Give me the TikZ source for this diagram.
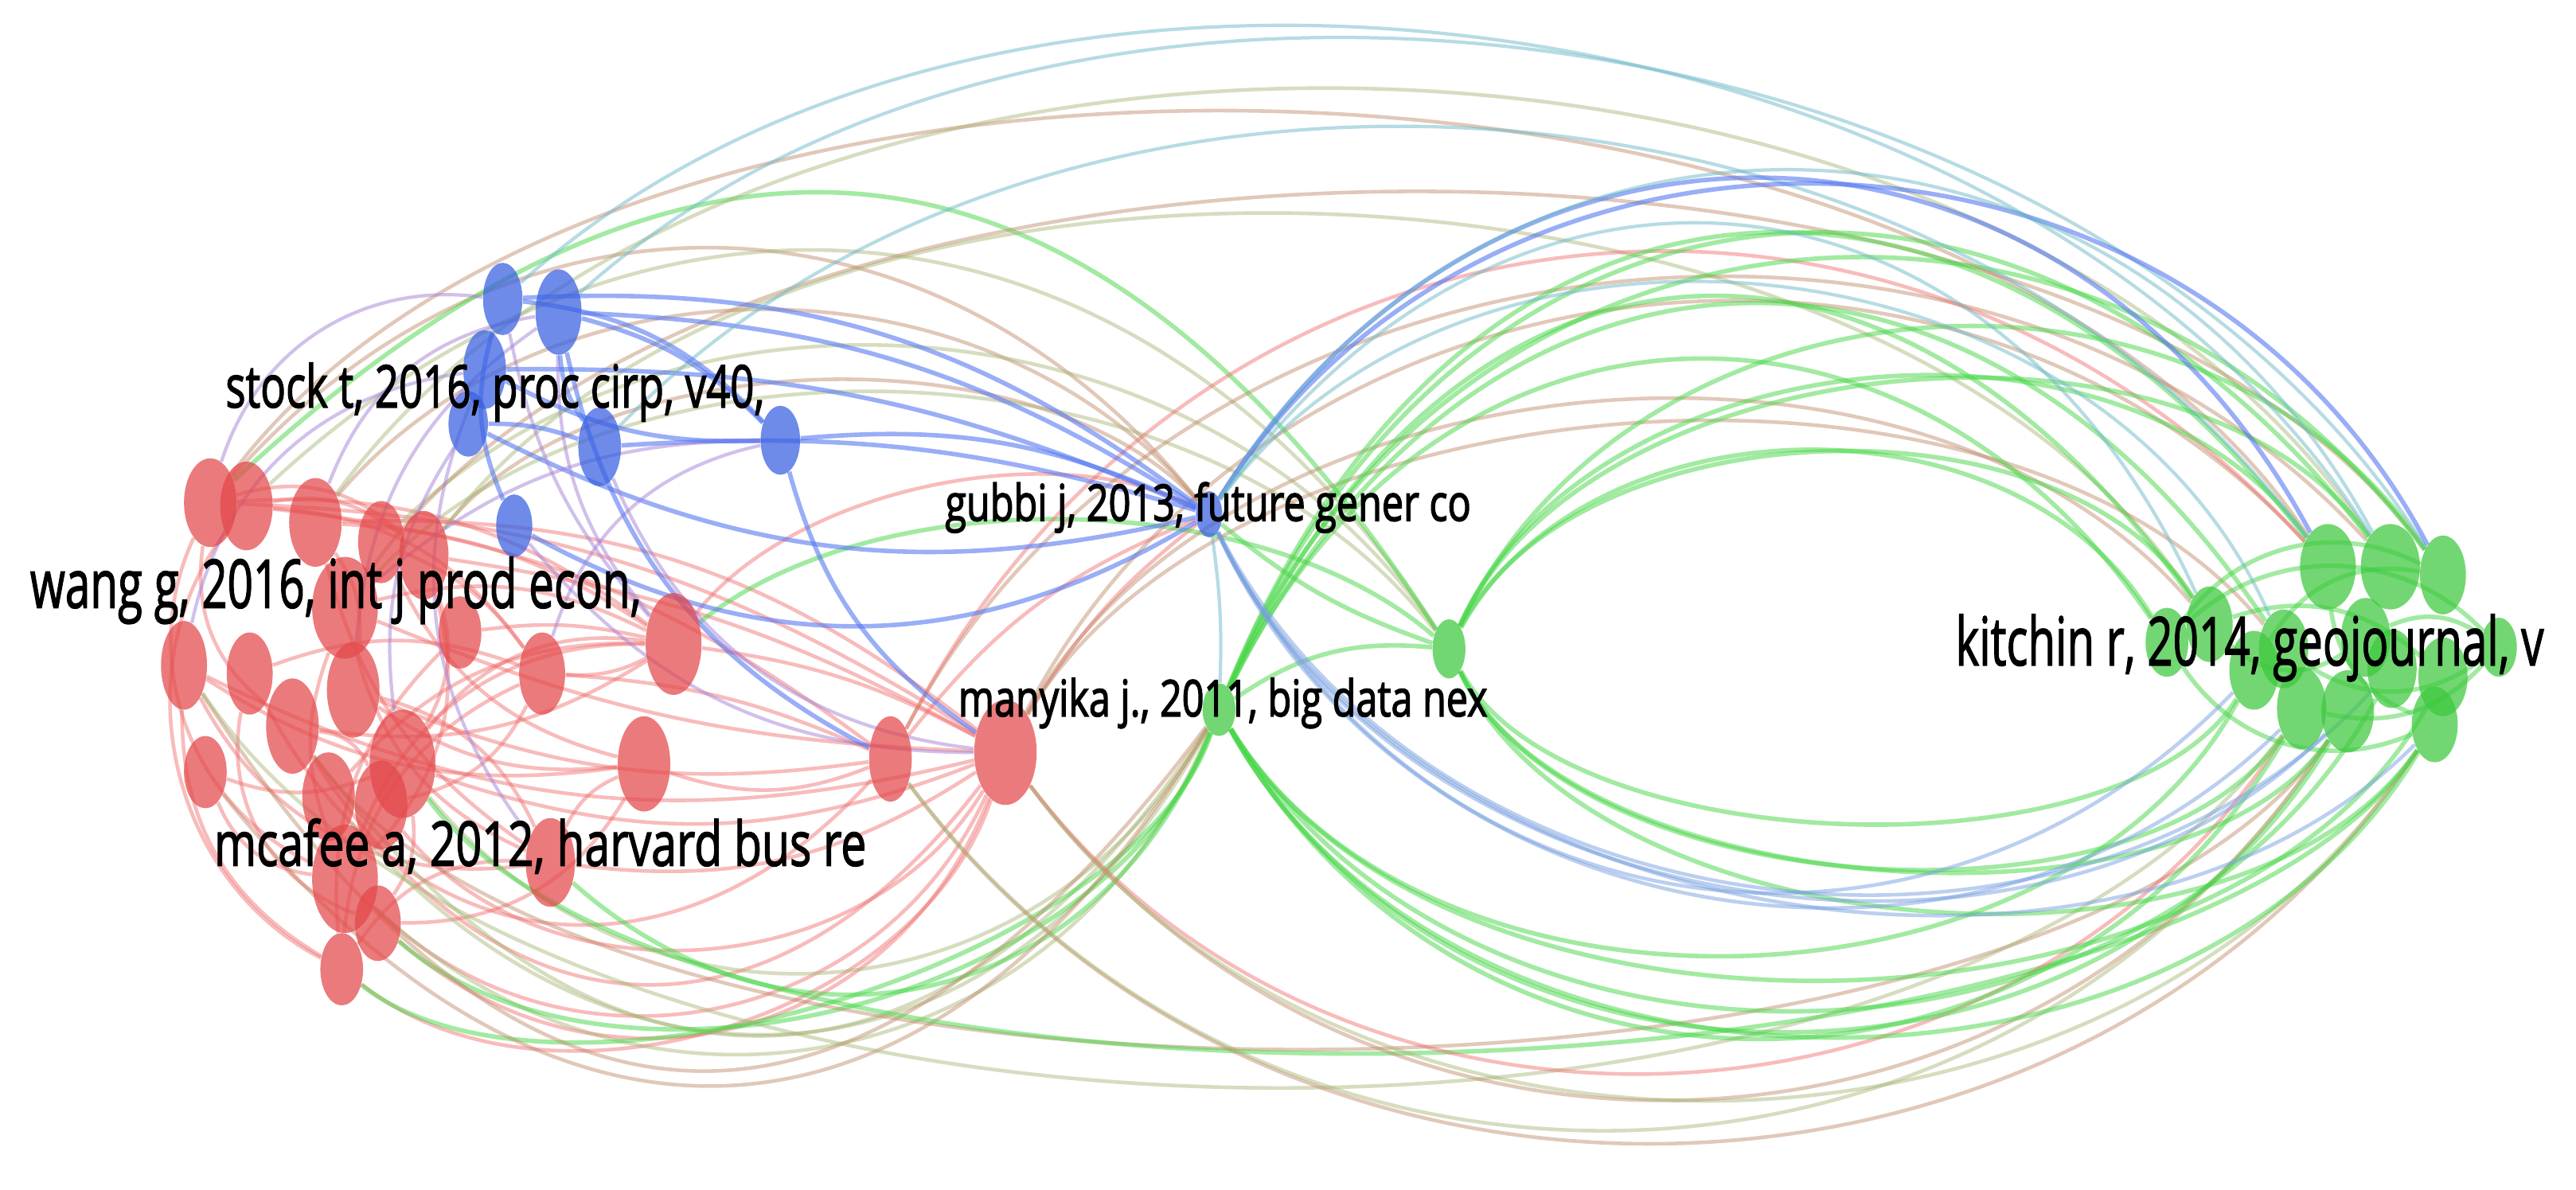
\documentclass[tikz,border=0pt]{standalone}
\usepackage{fontspec}
\setmainfont{Open Sans}
\newfontfamily\labfont{Open Sans}
\newcommand\heavy[1]{\special{pdf:literal direct 0 0 0 RG 2 Tr 0.45 w}#1\special{pdf:literal direct 0 Tr}}
\usetikzlibrary{shapes.geometric}
\pgfdeclarelayer{bg}
\pgfsetlayers{bg,main}
\newlength\un \setlength\un{0.2064mm}
\definecolor{nred}{RGB}{228,72,74}
\definecolor{nblue}{RGB}{55,95,225}
\definecolor{ngreen}{RGB}{60,200,60}
\definecolor{lred}{RGB}{240,105,105}
\definecolor{lgreen}{RGB}{70,215,70}
\definecolor{lblue}{RGB}{85,120,240}
\definecolor{lsky}{RGB}{120,160,225}
\definecolor{lpurple}{RGB}{165,130,215}
\definecolor{lbrown}{RGB}{190,135,100}
\definecolor{lolive}{RGB}{165,180,115}
\definecolor{lteal}{RGB}{110,185,200}
\tikzset{
  vn/.style n args={3}{ellipse, fill=#1, fill opacity=.72, inner sep=0pt, draw=none,
     minimum width={2*#2*\un}, minimum height={2*#3*\un}},
  ered/.style={draw=lred, line width=1.3pt, draw opacity=.45},
  egreen/.style={draw=lgreen, line width=1.6pt, draw opacity=.5},
  eblue/.style={draw=lblue, line width=1.6pt, draw opacity=.6},
  esky/.style={draw=lsky, line width=1.3pt, draw opacity=.5},
  epurple/.style={draw=lpurple, line width=1.2pt, draw opacity=.5},
  ebrown/.style={draw=lbrown, line width=1.3pt, draw opacity=.45},
  eolive/.style={draw=lolive, line width=1.3pt, draw opacity=.45},
  eteal/.style={draw=lteal, line width=1.2pt, draw opacity=.5},
  lab/.style={anchor=base west, inner sep=0pt, text=black}
}
\newcommand\vnode[6]{\node[vn={#1}{#5}{#6}] (#2) at (#3,#4) {};}
% angle-based arcs
\newcommand\edgeset[2]{\foreach \ea/\eb/\et/\el in {#2} {\draw[#1] (\ea) to[bend left=\et, looseness=\el] (\eb);}}
% deviation-based arcs: angle, deviation as fraction of length
\newcommand\arcset[2]{\foreach \ea/\eb/\et/\ek in {#2} {\pgfmathsetmacro\el{\ek/(0.294*abs(sin(\et)))}\draw[#1] (\ea) to[bend left=\et, looseness=\el] (\eb);}}
\begin{document}
\begin{tikzpicture}[x=0.2064mm, y=-0.2064mm]
\useasboundingbox (0,0) rectangle (1568,724);
% red nodes
\vnode{nred}{r1}{128}{306}{16}{27}
\vnode{nred}{r2}{150}{308}{16}{27}
\vnode{nred}{r3}{192}{318}{16}{27}
\vnode{nred}{r4}{232}{330}{14}{25}
\vnode{nred}{r5}{258}{338}{15}{27}
\vnode{nred}{r6}{210}{370}{20}{31}
\vnode{nred}{r7}{112}{405}{14}{27}
\vnode{nred}{r8}{152}{410}{14}{25}
\vnode{nred}{r9}{178}{442}{16}{29}
\vnode{nred}{r10}{215}{420}{16}{29}
\vnode{nred}{r11}{245}{465}{20}{33}
\vnode{nred}{r12}{330}{410}{14}{25}
\vnode{nred}{r13}{410}{392}{17}{31}
\vnode{nred}{r14}{392}{465}{16}{29}
\vnode{nred}{r15}{200}{485}{16}{27}
\vnode{nred}{r16}{232}{490}{16}{27}
\vnode{nred}{r17}{210}{535}{20}{33}
\vnode{nred}{r18}{230}{562}{14}{23}
\vnode{nred}{r19}{208}{590}{13}{22}
\vnode{nred}{r20}{335}{525}{15}{27}
\vnode{nred}{r21}{542}{462}{13}{26}
\vnode{nred}{r22}{612}{458}{19}{32}
\vnode{nred}{r23}{125}{470}{13}{22}
\vnode{nred}{r24}{280}{385}{13}{22}
% blue nodes
\vnode{nblue}{b1}{306}{182}{12}{22}
\vnode{nblue}{b2}{340}{190}{14}{26}
\vnode{nblue}{b3}{295}{225}{13}{24}
\vnode{nblue}{b4}{285}{258}{12}{20}
\vnode{nblue}{b5}{365}{272}{13}{24}
\vnode{nblue}{b6}{475}{268}{12}{21}
\vnode{nblue}{b7}{313}{320}{11}{19}
\vnode{nblue}{b8}{736}{313}{8}{14}
% green nodes
\vnode{ngreen}{g1}{742}{432}{10}{16}
\vnode{ngreen}{g2}{882}{395}{10}{18}
\vnode{ngreen}{c1}{1319}{391}{13}{21}
\vnode{ngreen}{c2}{1345}{380}{14}{23}
\vnode{ngreen}{c3}{1372}{408}{15}{24}
\vnode{ngreen}{c4}{1401}{431}{15}{25}
\vnode{ngreen}{c5}{1429}{433}{16}{25}
\vnode{ngreen}{c6}{1417}{345}{17}{26}
\vnode{ngreen}{c7}{1455}{345}{18}{26}
\vnode{ngreen}{c8}{1487}{350}{14}{24}
\vnode{ngreen}{c9}{1456}{407}{15}{24}
\vnode{ngreen}{c10}{1487}{412}{15}{24}
\vnode{ngreen}{c11}{1482}{441}{14}{23}
\vnode{ngreen}{c12}{1521}{394}{11}{18}
\vnode{ngreen}{c13}{1390}{395}{15}{24}
\vnode{ngreen}{c14}{1440}{388}{15}{24}
\begin{pgfonlayer}{bg}
\fill[white] (0,0) rectangle (1568,724);
% red internal
\edgeset{ered}{r1/r17/-45/1, r2/r19/-50/1, r7/r19/-30/1, r1/r13/20/1, r2/r12/25/1, r3/r13/15/1, r3/r20/-20/1, r4/r14/-25/1, r5/r17/30/1, r6/r13/20/1, r6/r20/-25/1, r7/r14/-20/1, r8/r12/20/1, r9/r13/-20/1, r10/r20/25/1, r11/r13/30/1, r12/r19/-30/1, r15/r13/25/1, r16/r12/-25/1, r17/r13/35/1, r18/r14/-30/1, r19/r20/30/1, r23/r11/-20/1, r24/r19/-25/1, r7/r20/-35/1, r1/r9/-30/1, r9/r16/30/1, r11/r18/20/1, r23/r17/-30/1, r8/r18/-40/1, r3/r10/20/1, r5/r11/25/1, r14/r20/-20/1, r12/r13/-15/1, r6/r17/-20/1, r10/r14/-20/1, r4/r12/15/1, r2/r5/25/1, r1/r5/30/1, r24/r13/10/1}
% red to r21/r22
\edgeset{ered}{r1/r22/15/1, r3/r22/20/1, r5/r22/10/1, r6/r22/-10/1, r13/r22/10/1, r2/r21/15/1, r12/r21/10/1, r10/r21/-15/1, r14/r21/-20/1, r20/r22/-20/1, r11/r22/-20/1, r7/r22/-20/1, r22/b8/10/1, r21/b8/15/1}
\arcset{ered}{r19/r22/-55/0.22, r17/r22/-55/0.26, r18/r22/-55/0.27, r16/r22/-55/0.24, r8/r21/-55/0.3, r9/r22/-55/0.32}
% left lens bottom to manyika
\arcset{eolive}{r9/g1/-55/0.33, r17/g1/-55/0.27, r15/g1/-55/0.3, r11/g1/-55/0.27}
\arcset{egreen}{r19/g1/-55/0.17, r18/g1/-55/0.21, r20/g1/-55/0.28}
\arcset{ebrown}{r7/g1/-55/0.36, r23/g1/-55/0.33}
% left lens top to gubbi / g2
\arcset{ebrown}{r1/b8/50/0.25, r3/b8/50/0.22, r5/b8/50/0.18}
\arcset{eolive}{r2/g2/50/0.26, r4/g2/50/0.22, r6/g2/50/0.2}
\arcset{egreen}{r1/g2/50/0.3, r13/g2/40/0.15}
\arcset{ered}{r13/b8/40/0.15}
% long red to right cluster
\arcset{ebrown}{r1/c6/55/0.19, r6/c8/55/0.18, r9/c5/-55/0.15}
\arcset{eolive}{r3/c7/55/0.21, r5/c2/55/0.2, r7/c4/-55/0.18}
\arcset{egreen}{r11/c11/-55/0.14}
% r21/r22 to right cluster
\arcset{ebrown}{r22/c6/55/0.25, r22/c2/55/0.22, r21/c7/55/0.24, r22/c13/55/0.2, r22/c5/-55/0.26, r21/c11/-55/0.25}
\arcset{ered}{r21/c6/55/0.27, r22/c4/-55/0.25}
\arcset{eolive}{r21/c5/-55/0.26, r22/c11/-55/0.24}
% green lens
\arcset{egreen}{g1/c6/60/0.35, g1/c7/60/0.33, g1/c2/60/0.36, g1/c8/60/0.3, g1/c13/60/0.34, g1/c1/60/0.32, g1/c4/-60/0.29, g1/c5/-60/0.27, g1/c11/-60/0.25, g1/c3/-60/0.24, g1/c9/-60/0.26, g1/c10/-60/0.22}
\arcset{egreen}{g2/c6/60/0.24, g2/c7/60/0.22, g2/c8/60/0.27, g2/c2/60/0.22, g2/c1/60/0.25, g2/c4/-60/0.2, g2/c5/-60/0.19, g2/c11/-60/0.21, g2/c3/-60/0.18}
\edgeset{egreen}{g1/g2/20/1}
\edgeset{egreen}{c1/c8/40/1, c1/c11/-40/1, c2/c10/30/1, c13/c12/-35/1, c3/c8/35/1, c6/c11/-30/1, c1/c12/45/1, c4/c12/-30/1, c2/c14/-40/1, c14/c12/30/1}
\edgeset{eteal}{b8/g1/5/1}
\edgeset{egreen}{b8/g2/-10/1}
% blue
\edgeset{eblue}{b1/b8/20/1, b2/b8/15/1, b3/b8/12/1, b5/b8/10/1, b6/b8/15/1, b7/b8/-30/1, b4/b8/-20/1}
\arcset{eteal}{b1/c7/50/0.2, b2/c8/50/0.2, b5/c6/50/0.21}
\arcset{eblue}{b8/c6/60/0.31, b8/c8/60/0.28}
\arcset{eteal}{b8/c7/60/0.3, b8/c2/60/0.33, b8/c13/60/0.26}
\arcset{esky}{b8/c4/-55/0.25, b8/c5/-55/0.23, b8/c11/-55/0.22, b8/c3/-55/0.27, b8/c9/-55/0.24}
\edgeset{epurple}{b1/r1/-40/1, b2/r3/-30/1, b3/r7/-35/1, b5/r22/-30/1, b2/r13/-20/1, b6/r6/-20/1, b1/r13/-15/1, b7/r22/-25/1, b4/r11/-20/1, b2/r10/-25/1, b3/r20/-30/1, b6/r12/-30/1}
\edgeset{eblue}{b1/b6/20/1, b2/b6/15/1, b3/b6/-15/1, b4/b5/10/1, b1/b7/-20/1, b2/b5/-15/1, b2/r21/-25/1, b6/r22/-20/1}
\end{pgfonlayer}
% labels
\node[lab] (lstock) at (137,248) {\resizebox{328\un}{\height}{\labfont\fontsize{21}{25}\selectfont\heavy{stock t, 2016, proc cirp, v40,}}};
\node[lab] (lwang) at (18,370) {\resizebox{372\un}{\height}{\labfont\fontsize{24}{28}\selectfont\heavy{wang g, 2016, int j prod econ,}}};
\node[lab] (lmcafee) at (130,527) {\resizebox{397\un}{\height}{\labfont\fontsize{22}{26}\selectfont\heavy{mcafee a, 2012, harvard bus re}}};
\node[lab] (lgubbi) at (575,317) {\resizebox{320\un}{\height}{\labfont\fontsize{18}{22}\selectfont\heavy{gubbi j, 2013, future gener co}}};
\node[lab] (lmanyika) at (583,436) {\resizebox{322\un}{\height}{\labfont\fontsize{18}{22}\selectfont\heavy{manyika j., 2011, big data nex}}};
\node[lab] (lkitchin) at (1190,405) {\resizebox{358\un}{\height}{\labfont\fontsize{24}{28}\selectfont\heavy{kitchin r, 2014, geojournal, v}}};
\end{tikzpicture}
\end{document}
